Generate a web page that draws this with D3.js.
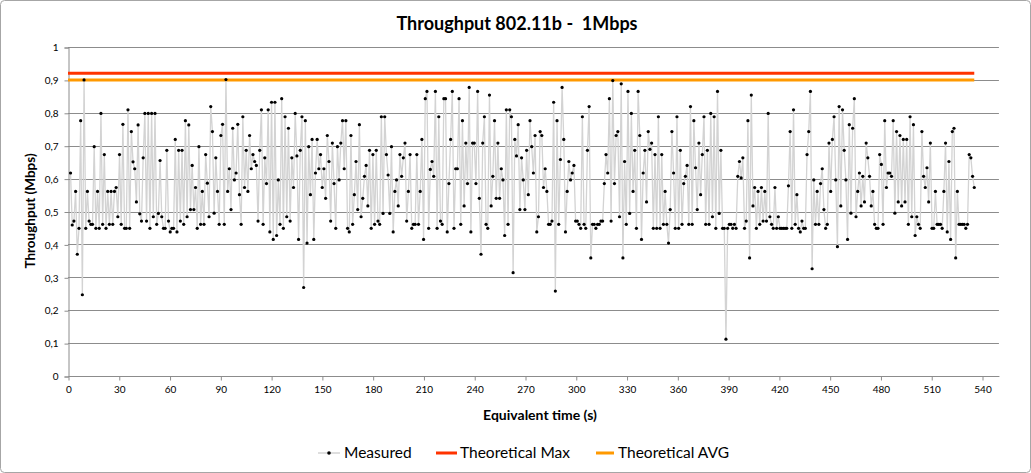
<!DOCTYPE html>
<html><head><meta charset="utf-8">
<script src="https://cdn.jsdelivr.net/npm/d3@7"></script>
<style>html,body{margin:0;padding:0;background:#fff;}svg{display:block;}</style>
</head><body>
<svg id="c" width="1031" height="473"></svg>
<script>
const measured = [
0.617,0.459,0.471,0.561,0.370,0.449,0.776,0.247,0.900,0.449,0.561,0.471,0.461,0.461,0.697,0.449,0.561,0.449,0.798,0.461,0.673,0.449,0.561,0.461,0.561,0.461,0.561,0.573,0.484,0.673,0.461,0.765,0.449,0.449,0.809,0.449,0.743,0.651,0.630,0.529,0.763,0.493,
0.471,0.663,0.798,0.471,0.798,0.449,0.798,0.484,0.798,0.461,0.494,0.655,0.484,0.449,0.449,0.686,0.471,0.438,0.449,0.449,0.719,0.438,0.686,0.471,0.686,0.461,0.776,0.484,0.763,0.506,0.640,0.506,0.573,0.449,0.697,0.461,0.561,0.461,0.673,0.586,0.484,0.819,0.743,0.495,
0.663,0.561,0.461,0.731,0.765,0.461,0.901,0.561,0.630,0.506,0.753,0.596,0.617,0.765,0.551,0.461,0.788,0.573,0.686,0.561,0.731,0.630,0.673,0.652,0.640,0.471,0.686,0.809,0.461,0.663,0.585,0.809,0.438,0.832,0.415,0.832,0.427,0.596,0.461,0.843,0.449,0.788,0.484,0.753,
0.471,0.663,0.573,0.798,0.669,0.415,0.686,0.788,0.269,0.776,0.404,0.697,0.551,0.719,0.415,0.617,0.719,0.630,0.673,0.573,0.630,0.540,0.731,0.652,0.471,0.708,0.585,0.449,0.697,0.596,0.708,0.776,0.630,0.776,0.449,0.438,0.731,0.461,0.551,0.652,0.506,0.764,0.484,0.540,0.607,
0.640,0.517,0.686,0.449,0.673,0.461,0.686,0.471,0.461,0.788,0.494,0.788,0.673,0.611,0.494,0.697,0.438,0.561,0.596,0.517,0.673,0.607,0.663,0.708,0.471,0.561,0.673,0.449,0.461,0.461,0.673,0.461,0.561,0.719,0.415,0.843,0.865,0.449,0.628,0.652,0.607,0.865,0.449,0.788,
0.471,0.461,0.843,0.843,0.438,0.585,0.719,0.865,0.449,0.630,0.630,0.843,0.461,0.776,0.517,0.708,0.585,0.877,0.438,0.708,0.708,0.585,0.865,0.540,0.370,0.708,0.788,0.461,0.449,0.854,0.517,0.607,0.776,0.540,0.708,0.540,0.630,0.596,0.427,0.809,0.461,0.809,0.788,0.314,0.719,
0.669,0.764,0.506,0.663,0.596,0.506,0.686,0.551,0.776,0.697,0.617,0.731,0.438,0.484,0.743,0.731,0.573,0.630,0.561,0.461,0.461,0.471,0.832,0.258,0.776,0.461,0.658,0.877,0.719,0.438,0.561,0.652,0.596,0.617,0.640,0.471,0.471,0.461,0.449,0.788,0.461,0.449,0.686,0.819,
0.359,0.461,0.461,0.449,0.461,0.461,0.471,0.471,0.585,0.673,0.617,0.843,0.471,0.898,0.585,0.731,0.743,0.484,0.888,0.359,0.652,0.461,0.865,0.494,0.798,0.561,0.686,0.449,0.865,0.731,0.415,0.617,0.686,0.529,0.743,0.689,0.708,0.449,0.673,0.449,0.788,0.449,0.673,0.461,
0.561,0.461,0.404,0.506,0.743,0.617,0.449,0.788,0.449,0.686,0.461,0.585,0.607,0.640,0.461,0.819,0.461,0.776,0.633,0.506,0.708,0.551,0.673,0.788,0.461,0.686,0.461,0.798,0.484,0.788,0.449,0.865,0.494,0.686,0.449,0.449,0.112,0.449,0.461,0.461,0.449,0.461,0.449,0.607,
0.652,0.602,0.663,0.449,0.471,0.776,0.359,0.854,0.517,0.573,0.449,0.561,0.461,0.573,0.471,0.561,0.471,0.798,0.484,0.461,0.449,0.573,0.449,0.484,0.449,0.449,0.449,0.449,0.449,0.578,0.743,0.449,0.809,0.461,0.551,0.449,0.438,0.471,0.449,0.449,0.673,0.743,0.865,0.326,0.596,0.461,
0.561,0.461,0.585,0.630,0.506,0.449,0.461,0.708,0.561,0.719,0.788,0.596,0.393,0.819,0.517,0.809,0.686,0.596,0.415,0.764,0.495,0.753,0.843,0.484,0.561,0.617,0.517,0.607,0.529,0.708,0.663,0.607,0.517,0.561,0.461,0.449,0.449,0.673,0.643,0.461,0.776,0.573,0.617,
0.617,0.607,0.776,0.495,0.743,0.529,0.731,0.517,0.719,0.529,0.719,0.461,0.788,0.484,0.764,0.427,0.484,0.461,0.449,0.743,0.607,0.573,0.633,0.529,0.708,0.449,0.449,0.561,0.461,0.461,0.461,0.449,0.561,0.708,0.438,0.652,0.415,0.743,0.753,0.359,0.561,0.461,0.461,0.461,0.461,0.449,0.461,0.673,0.663,0.607,0.573
];
const timeStart = 1.5, timeStep = 0.998;           // equivalent time of each sample (s)
const times = measured.map((_, i) => timeStart + i * timeStep);
const theoreticalMax = 0.92;
const theoreticalAvg = 0.9;
const xTicks = d3.range(0, 541, 30);
const yTicks = [0,0.1,0.2,0.3,0.4,0.5,0.6,0.7,0.8,0.9,1];
const seriesNames = ["Measured", "Theoretical Max", "Theoretical AVG"];
const colors = {measuredLine:"#d3d3d3", dot:"#000", max:"#ff3300", avg:"#ff9900"};

const svg = d3.select("#c");
const font = "Lato, 'Open Sans', sans-serif";
svg.append("rect").attr("x",0.5).attr("y",0.5).attr("width",1030).attr("height",472)
  .attr("rx",4).attr("fill","#fff").attr("stroke","#a6a6a6");

const x = d3.scaleLinear().domain([0, 550]).range([68, 68 + 550*914/540]);
const y = d3.scaleLinear().domain([0, 1]).range([376, 47]);

// gridlines
svg.append("g").selectAll("line").data(yTicks.filter(d=>d>0)).join("line")
  .attr("x1", x(0)).attr("x2", x(550)).attr("y1", d=>Math.round(y(d))+0.5).attr("y2", d=>Math.round(y(d))+0.5)
  .attr("stroke","#8c8c8c").attr("stroke-width",1);

// axes
const yAxis = d3.axisLeft(y).tickValues(yTicks).tickSize(4).tickPadding(6)
  .tickFormat(d => d===0?"0":d===1?"1":d3.format(".1f")(d).replace(".",","));
const gy = svg.append("g").attr("transform","translate(68.5,0.5)").call(yAxis);
const xAxis = d3.axisBottom(x).tickValues(xTicks).tickSize(4).tickPadding(5);
const gx = svg.append("g").attr("transform",`translate(0.5,${376.5})`).call(xAxis);
[gx, gy].forEach(g => {
  g.select(".domain").attr("stroke","#8c8c8c");
  g.selectAll(".tick line").attr("stroke","#8c8c8c");
  g.selectAll("text").attr("font-family",font).attr("font-size","10px").attr("fill","#000");
});
gx.select(".domain").attr("d", `M${x(0)},0H${x(550)}`);

// theoretical lines
const tEnd = times[times.length-1];
[[theoreticalMax, colors.max],[theoreticalAvg, colors.avg]].forEach(([v,c]) => {
  svg.append("line").attr("x1", x(0)).attr("x2", x(tEnd)).attr("y1", y(v)).attr("y2", y(v))
    .attr("stroke", c).attr("stroke-width", 3);
});

// measured
const line = d3.line().x((d,i)=>x(times[i])).y(d=>y(d));
svg.append("path").datum(measured).attr("d", line).attr("fill","none")
  .attr("stroke",colors.measuredLine).attr("stroke-width",1.3);
svg.append("g").selectAll("circle").data(measured).join("circle")
  .attr("cx",(d,i)=>x(times[i])).attr("cy",d=>y(d)).attr("r",1.6).attr("fill",colors.dot);

// titles
svg.append("text").attr("x",517).attr("y",30).attr("text-anchor","middle").style("white-space","pre")
  .attr("font-family",font).attr("font-weight","bold").attr("font-size","18px").text("Throughput 802.11b -  1Mbps");
svg.append("text").attr("transform","translate(35,211) rotate(-90)").attr("text-anchor","middle")
  .attr("font-family",font).attr("font-weight","bold").attr("font-size","13.5px").text("Throughput (Mbps)");
svg.append("text").attr("x",540).attr("y",420).attr("text-anchor","middle")
  .attr("font-family",font).attr("font-weight","bold").attr("font-size","14px").text("Equivalent time (s)");

// legend
const lg = svg.append("g").attr("font-family",font).attr("font-size","15.5px");
const ly = 453;
lg.append("line").attr("x1",318).attr("x2",340).attr("y1",ly).attr("y2",ly).attr("stroke",colors.measuredLine).attr("stroke-width",1.5);
lg.append("circle").attr("cx",329).attr("cy",ly).attr("r",1.8).attr("fill","#000");
lg.append("text").attr("x",344).attr("y",ly+5).text(seriesNames[0]);
lg.append("line").attr("x1",436).attr("x2",457).attr("y1",ly).attr("y2",ly).attr("stroke",colors.max).attr("stroke-width",3);
lg.append("text").attr("x",460).attr("y",ly+5).text(seriesNames[1]);
lg.append("line").attr("x1",596).attr("x2",614).attr("y1",ly).attr("y2",ly).attr("stroke",colors.avg).attr("stroke-width",3);
lg.append("text").attr("x",618).attr("y",ly+5).text(seriesNames[2]);
</script>
</body></html>
